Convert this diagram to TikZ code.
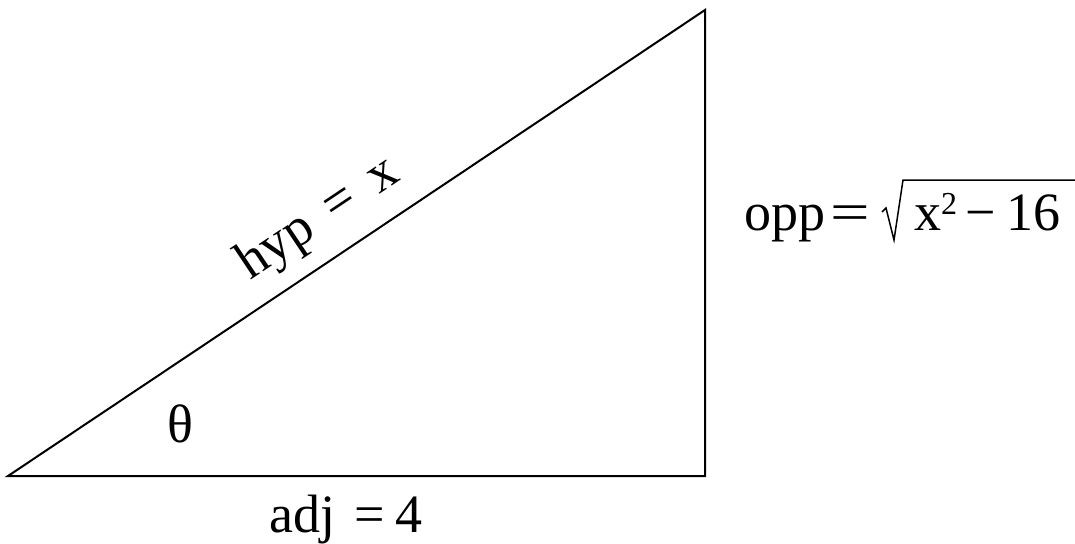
\documentclass[tikz,border=0pt]{standalone}
\usepackage{fontspec}
\setmainfont{Liberation Serif}
\begin{document}
\begin{tikzpicture}[x=1pt,y=-1pt,
  edge/.style={line width=2pt, line join=miter},
  lbl/.style={inner sep=0pt, font=\fontsize{54}{54}\selectfont}]
\useasboundingbox (0,0) rectangle (1075,543);
\coordinate (A) at (8,476);
\coordinate (B) at (705,476);
\coordinate (C) at (705,10);
\draw[edge] (A) -- (B) -- (C) -- cycle;
\node[lbl, anchor=base west, rotate=33.8] (hyp) at (250,281) {hyp\hspace{22pt}=\hspace{22pt}x};
\node[lbl] (theta) at (180,424) {θ};
\node[lbl, anchor=base west] (adj) at (269,532) {adj\hspace{19pt}=\hspace{11pt}4};
\node[lbl, anchor=base west] (opp) at (744,230) {opp\hspace{5pt}\scalebox{1.3}[1]{=}};
\node[lbl, anchor=base west] (rad) at (914,230) {x\raisebox{16pt}{\fontsize{32}{32}\selectfont 2}\hspace{8pt}−\hspace{11pt}16};
\draw[line width=1.5pt, line join=miter] (882,212) -- (886,208) -- (894,240) -- (903,180) -- (1075,180);
\end{tikzpicture}
\end{document}
